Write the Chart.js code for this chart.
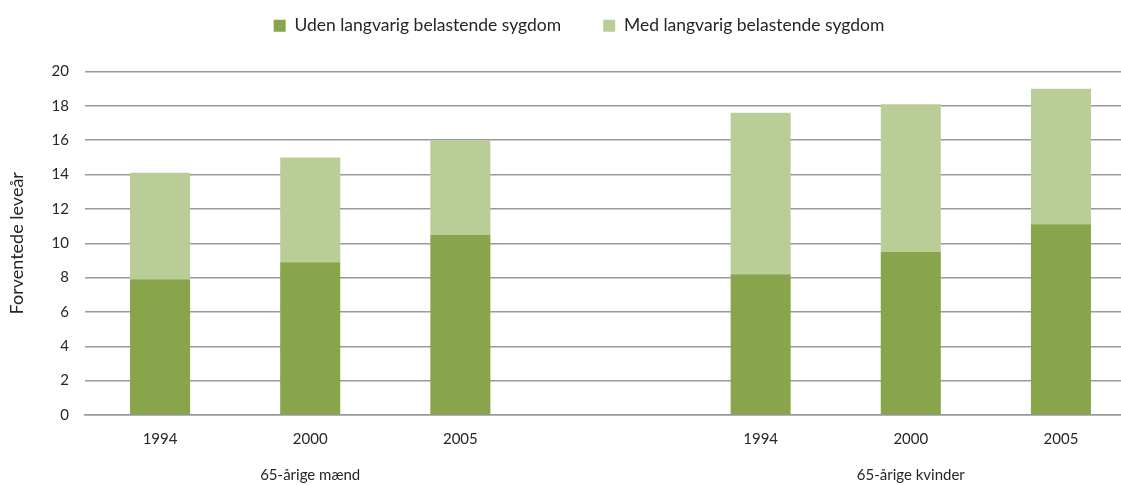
<!DOCTYPE html>
<html>
<head>
<meta charset="utf-8">
<script src="https://cdn.jsdelivr.net/npm/chart.js@4"></script>
<style>
    html, body { margin: 0; padding: 0; background: #fff; overflow: hidden; }
    #wrap { width: 1136px; height: 485px; }
</style>
</head>
<body>
<div id="wrap"><canvas id="chart"></canvas></div>
<script>
const years = ['1994', '2000', '2005', '', '1994', '2000', '2005'];
const groupLabels = ['', '65-årige mænd', '', '', '', '65-årige kvinder', ''];
const udenSygdom = [7.9, 8.9, 10.5, null, 8.2, 9.5, 11.1];
const medSygdom = [6.2, 6.1, 5.5, null, 9.4, 8.6, 7.9];
const yTicks = [0, 2, 4, 6, 8, 10, 12, 14, 16, 18, 20];

const family = 'Lato, "Open Sans", sans-serif';
const textColor = '#262626';

// year on the first line, group name two lines below
const xLabels = years.map((y, i) => [y, '', groupLabels[i]]);

// wide gaps between legend items, but legend drawn higher up
const legendShift = {
    id: 'legendShift',
    beforeInit(chart) {
        const fit = chart.legend.fit;
        chart.legend.fit = function () {
            fit.bind(chart.legend)();
            this.height += 2;
        };
    },
    afterLayout(chart) {
        const lg = chart.legend;
        lg.top -= 25;
        lg.bottom -= 25;
        lg.left += 8;
        lg.right += 8;
    }
};

const ctx = document.getElementById('chart').getContext('2d');
new Chart(ctx, {
    type: 'bar',
    data: {
        labels: xLabels,
        datasets: [{
            label: 'Uden langvarig belastende sygdom',
            data: udenSygdom,
            backgroundColor: '#89A54C',
            barPercentage: 0.4,
            categoryPercentage: 1
        }, {
            label: 'Med langvarig belastende sygdom',
            data: medSygdom,
            backgroundColor: '#BBCD96',
            barPercentage: 0.4,
            categoryPercentage: 1
        }]
    },
    options: {
        responsive: true,
        maintainAspectRatio: false,
        animation: false,
        layout: { padding: { top: 0, right: 0, bottom: 0, left: 6 } },
        plugins: {
            legend: {
                position: 'top',
                labels: {
                    boxWidth: 12,
                    boxHeight: 12,
                    padding: 42,
                    color: textColor,
                    font: { family: family, size: 17.5 }
                }
            },
            tooltip: { enabled: false }
        },
        scales: {
            x: {
                stacked: true,
                grid: { display: false, drawTicks: false },
                border: { display: true, color: '#999', width: 1.5 },
                ticks: {
                    color: textColor,
                    font: { family: family, size: 15, lineHeight: 1.2 },
                    padding: 15,
                    maxRotation: 0,
                    autoSkip: false
                },
                afterFit: (scale) => { scale.height = 70; }
            },
            y: {
                stacked: true,
                min: 0,
                max: 20,
                afterBuildTicks: (axis) => { axis.ticks = yTicks.map(v => ({ value: v })); },
                grid: { color: '#999', lineWidth: 1.5, drawTicks: false },
                border: { display: false },
                ticks: { color: textColor, font: { family: family, size: 15 }, padding: 16 },
                title: {
                    display: true,
                    text: 'Forventede leveår',
                    color: textColor,
                    font: { family: family, size: 18 },
                    padding: { top: 0, bottom: 8 }
                }
            }
        }
    },
    plugins: [legendShift]
});
</script>
</body>
</html>
